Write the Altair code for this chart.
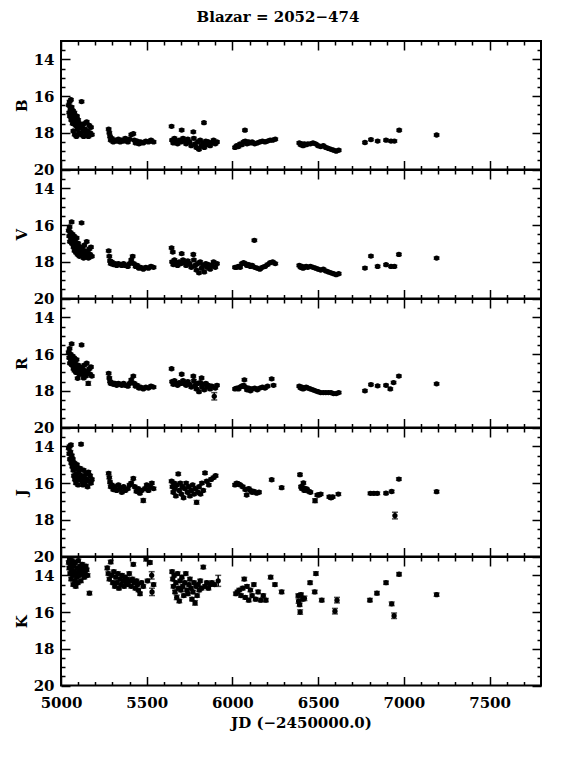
import altair as alt
import pandas as pd

TITLE = "Blazar = 2052−474"
X_TITLE = "JD (−2450000.0)"
BANDS = ["B", "V", "R", "J", "K"]
X_DOMAIN = [5000, 7800]
Y_DOMAIN = [13, 20]
X_MAJOR = [5000, 5500, 6000, 6500, 7000, 7500]
X_MINOR = [5100, 5200, 5300, 5400, 5600, 5700, 5800, 5900, 6100, 6200, 6300, 6400,
           6600, 6700, 6800, 6900, 7100, 7200, 7300, 7400, 7600, 7700]
Y_LABELS = [14, 16, 18, 20]
Y_MAJOR = [14, 16, 18, 20]
Y_MINOR = [13.5, 14.5, 15, 15.5, 16.5, 17, 17.5, 18.5, 19, 19.5]

# typical photometric error per band (mag)
DEFAULT_ERR = {"B": 0.06, "V": 0.06, "R": 0.06, "J": 0.07, "K": 0.09}

# (JD-2450000, magnitude[, error])
B_PTS = [
    (5045, 16.5), (5048, 16.9), (5050, 16.3), (5052, 17.1), (5055, 16.7), (5058, 16.2),
    (5060, 17.3), (5062, 16.6), (5065, 17.0), (5068, 17.5), (5070, 16.8), (5072, 17.9),
    (5075, 17.2), (5078, 16.9), (5080, 18.1), (5083, 17.4), (5086, 17.6), (5090, 18.2),
    (5093, 17.1), (5096, 17.8), (5100, 17.3), (5104, 18.0), (5108, 17.5), (5112, 17.7),
    (5116, 18.1), (5120, 16.3), (5124, 17.6), (5128, 17.9), (5132, 18.2), (5136, 17.5),
    (5140, 17.8), (5145, 18.1), (5150, 17.4), (5155, 17.9), (5160, 18.2), (5165, 17.6),
    (5170, 18.0), (5175, 17.7), (5180, 18.1),
    (5278, 17.8), (5282, 18.0), (5286, 18.2), (5290, 18.4), (5296, 18.3), (5305, 18.5),
    (5315, 18.4), (5325, 18.45), (5335, 18.35), (5345, 18.5), (5355, 18.4), (5365, 18.45),
    (5375, 18.3), (5390, 18.5), (5400, 18.35), (5410, 18.1), (5422, 18.05), (5428, 18.4),
    (5435, 18.55), (5445, 18.45), (5455, 18.6), (5465, 18.5), (5480, 18.55), (5495, 18.45),
    (5510, 18.5), (5525, 18.4), (5540, 18.5),
    (5645, 17.65), (5704, 17.85), (5772, 17.95), (5834, 17.45),
    (5648, 18.4), (5655, 18.55), (5662, 18.3), (5670, 18.5), (5680, 18.6), (5690, 18.4),
    (5700, 18.5), (5712, 18.3), (5720, 18.45), (5730, 18.6), (5740, 18.35), (5750, 18.5),
    (5760, 18.7), (5775, 18.3), (5782, 18.6), (5790, 18.8), (5798, 18.5), (5805, 18.9),
    (5812, 18.4), (5820, 18.7), (5828, 18.55), (5836, 18.8), (5845, 18.45), (5852, 18.65),
    (5860, 18.5), (5870, 18.7), (5880, 18.55), (5890, 18.4), (5900, 18.6), (5910, 18.5),
    (6073, 17.86),
    (6015, 18.8), (6025, 18.7), (6035, 18.75), (6045, 18.6), (6055, 18.65), (6065, 18.5),
    (6075, 18.45), (6085, 18.6), (6095, 18.5), (6105, 18.55), (6115, 18.5), (6130, 18.6),
    (6145, 18.55), (6160, 18.5), (6175, 18.45), (6190, 18.5), (6205, 18.45), (6220, 18.4),
    (6235, 18.4), (6250, 18.35),
    (6390, 18.55), (6398, 18.65), (6405, 18.6), (6412, 18.7), (6420, 18.6), (6430, 18.65),
    (6440, 18.6), (6455, 18.6), (6470, 18.55), (6485, 18.6), (6500, 18.7), (6515, 18.75),
    (6530, 18.7), (6545, 18.8), (6560, 18.85), (6575, 18.9), (6590, 18.95), (6605, 19.0),
    (6620, 18.95),
    (6773, 18.53), (6808, 18.37), (6847, 18.45), (6896, 18.4), (6925, 18.45), (6945, 18.45),
    (6973, 17.86), (7191, 18.12),
]

V_PTS = [
    (5045, 16.3), (5048, 16.6), (5050, 16.1), (5052, 16.9), (5055, 16.4), (5058, 16.7),
    (5062, 15.83), (5064, 17.0), (5067, 16.5), (5070, 16.8), (5073, 17.2), (5076, 16.6),
    (5079, 17.4), (5082, 16.9), (5085, 17.1), (5088, 17.5), (5091, 16.7), (5094, 17.3),
    (5097, 17.6), (5100, 17.0), (5104, 17.4), (5108, 17.7), (5112, 17.2), (5116, 17.5),
    (5120, 15.88), (5124, 17.3), (5128, 17.6), (5132, 17.8), (5136, 17.1), (5140, 17.4),
    (5145, 17.7), (5150, 16.9), (5155, 17.5), (5160, 17.8), (5165, 17.3), (5170, 17.6),
    (5175, 17.2), (5180, 17.7),
    (5278, 17.4), (5282, 17.7), (5286, 17.95), (5290, 18.1), (5296, 18.0), (5305, 18.15),
    (5315, 18.1), (5325, 18.2), (5335, 18.1), (5345, 18.15), (5355, 18.2), (5365, 18.1),
    (5375, 18.2), (5390, 18.25), (5400, 18.1), (5410, 17.9), (5418, 17.7), (5425, 18.1),
    (5435, 18.25), (5445, 18.2), (5455, 18.35), (5465, 18.3), (5480, 18.4), (5495, 18.3),
    (5510, 18.35), (5525, 18.25), (5540, 18.3),
    (5645, 17.24), (5652, 17.47), (5704, 17.56), (5772, 17.6),
    (5648, 18.0), (5655, 18.15), (5662, 17.9), (5670, 18.1), (5680, 18.2), (5690, 18.0),
    (5700, 18.1), (5712, 17.9), (5720, 18.05), (5730, 18.2), (5740, 17.95), (5750, 18.1),
    (5760, 18.3), (5775, 17.9), (5782, 18.2), (5790, 18.45), (5798, 18.1), (5805, 18.6),
    (5812, 18.0), (5820, 18.35), (5828, 18.2), (5836, 18.55), (5845, 18.1), (5852, 18.3),
    (5860, 18.15), (5870, 18.4), (5880, 18.2), (5890, 18.0), (5900, 18.3), (5910, 18.1),
    (6128, 16.83),
    (6015, 18.3), (6025, 18.3), (6035, 18.25), (6045, 18.3), (6055, 18.1), (6065, 18.05),
    (6075, 18.1), (6085, 18.2), (6095, 18.15), (6105, 18.25), (6115, 18.2), (6130, 18.3),
    (6145, 18.35), (6160, 18.4), (6175, 18.3), (6190, 18.25), (6205, 18.15), (6220, 18.05),
    (6235, 18.0), (6250, 18.1),
    (6390, 18.2), (6398, 18.3), (6405, 18.25), (6412, 18.35), (6420, 18.3), (6430, 18.25),
    (6440, 18.3), (6455, 18.25), (6470, 18.3), (6485, 18.35), (6500, 18.4), (6515, 18.45),
    (6530, 18.4), (6545, 18.5), (6560, 18.55), (6575, 18.6), (6590, 18.65), (6605, 18.7),
    (6620, 18.65),
    (6773, 18.34), (6808, 17.69), (6847, 18.25), (6896, 18.16), (6925, 18.25), (6945, 18.25),
    (6971, 17.6), (7191, 17.8),
]

R_PTS = [
    (5045, 15.9), (5048, 16.2), (5050, 15.7), (5052, 16.5), (5055, 16.0), (5058, 16.3),
    (5062, 15.44), (5064, 16.6), (5067, 16.1), (5070, 16.4), (5073, 16.8), (5076, 16.2),
    (5079, 16.9), (5082, 16.5), (5085, 16.7), (5088, 17.0), (5091, 16.3), (5094, 16.8),
    (5097, 17.32), (5100, 16.6), (5104, 16.9), (5108, 17.1), (5112, 16.7), (5116, 17.0),
    (5120, 15.5), (5124, 16.8), (5128, 17.1), (5132, 17.3), (5136, 16.6), (5140, 16.9),
    (5145, 17.2), (5150, 16.5), (5155, 17.0), (5159, 17.6, 0.1), (5165, 16.8), (5170, 17.1),
    (5175, 16.7), (5180, 17.2),
    (5278, 17.05), (5282, 17.3), (5286, 17.5), (5290, 17.6), (5296, 17.55), (5305, 17.65),
    (5315, 17.6), (5325, 17.7), (5335, 17.6), (5345, 17.65), (5355, 17.7), (5365, 17.6),
    (5375, 17.7), (5390, 17.75), (5400, 17.6), (5410, 17.4), (5422, 17.2), (5428, 17.6),
    (5435, 17.75), (5445, 17.7), (5455, 17.85), (5465, 17.8), (5480, 17.9), (5495, 17.8),
    (5510, 17.85), (5525, 17.75), (5540, 17.8),
    (5645, 16.8), (5704, 17.1), (5772, 17.2), (5820, 17.3),
    (5648, 17.5), (5655, 17.65), (5662, 17.45), (5670, 17.6), (5680, 17.7), (5690, 17.55),
    (5700, 17.6), (5712, 17.45), (5720, 17.6), (5730, 17.7), (5740, 17.5), (5750, 17.65),
    (5760, 17.8), (5775, 17.45), (5782, 17.7), (5790, 17.9), (5798, 17.6), (5805, 18.05),
    (5812, 17.55), (5822, 17.8), (5828, 17.65), (5836, 17.95), (5845, 17.6), (5852, 17.8),
    (5860, 17.7), (5870, 17.9), (5880, 17.75), (5894, 18.3, 0.2), (5900, 17.85), (5910, 17.7),
    (6015, 17.9), (6025, 17.85), (6035, 17.9), (6045, 17.8), (6055, 17.75), (6065, 17.7),
    (6070, 17.4), (6075, 17.8), (6085, 17.95), (6095, 17.85), (6105, 18.0), (6115, 17.9),
    (6130, 17.85), (6145, 17.95), (6160, 17.85), (6175, 17.8), (6190, 17.85), (6205, 17.75),
    (6229, 17.35), (6240, 17.7),
    (6390, 17.75), (6398, 17.85), (6405, 17.8), (6412, 17.9), (6420, 17.85), (6430, 17.8),
    (6440, 17.85), (6455, 17.9), (6470, 17.95), (6485, 18.0), (6500, 18.05), (6515, 18.1),
    (6530, 18.1), (6545, 18.1), (6560, 18.1), (6575, 18.1), (6590, 18.15), (6605, 18.15),
    (6620, 18.1),
    (6773, 18.0), (6808, 17.66), (6847, 17.73), (6896, 17.7), (6921, 17.9), (6940, 17.55),
    (6971, 17.2), (7191, 17.62),
]

J_PTS = [
    (5045, 14.1), (5048, 14.4), (5050, 14.0), (5052, 14.7), (5055, 14.3), (5058, 13.92),
    (5060, 14.9), (5063, 14.5), (5066, 15.1), (5069, 14.7), (5072, 15.3), (5075, 15.6),
    (5078, 14.9), (5081, 15.8), (5084, 15.2), (5087, 16.0), (5090, 15.5), (5093, 15.0),
    (5096, 15.7), (5100, 16.1), (5104, 15.4), (5108, 15.8), (5112, 15.2), (5117, 13.88),
    (5120, 15.6), (5124, 15.9), (5128, 16.1), (5132, 15.3), (5136, 15.7), (5140, 16.0),
    (5145, 15.5), (5150, 15.8), (5155, 16.2), (5160, 15.4), (5165, 15.9), (5170, 15.6),
    (5175, 16.0), (5180, 15.8),
    (5278, 15.47), (5282, 15.7), (5286, 15.95), (5290, 16.2), (5296, 16.1), (5305, 16.35),
    (5315, 16.2), (5325, 16.4), (5335, 16.1), (5345, 16.3), (5355, 16.5), (5365, 16.2),
    (5375, 16.4), (5390, 16.3), (5400, 16.1), (5410, 16.0), (5422, 15.75), (5430, 16.2),
    (5440, 16.45), (5450, 16.3), (5460, 16.55), (5470, 16.4), (5480, 16.95, 0.1), (5490, 16.3),
    (5500, 16.1), (5510, 16.4), (5520, 16.2), (5530, 16.0), (5540, 16.3),
    (5645, 15.9), (5650, 16.2), (5655, 16.5), (5660, 16.0), (5665, 16.3), (5670, 16.7),
    (5676, 16.1), (5684, 15.5), (5690, 16.4), (5696, 16.0), (5702, 16.6), (5708, 16.2),
    (5715, 16.8), (5722, 16.3), (5730, 16.0), (5738, 16.5), (5745, 16.2), (5752, 16.7),
    (5760, 16.4), (5768, 16.1), (5776, 16.6), (5784, 16.3), (5791, 17.05, 0.1), (5798, 16.5),
    (5806, 16.2), (5814, 16.6), (5822, 16.0), (5830, 16.4), (5840, 15.45), (5850, 15.9),
    (5862, 16.1), (5875, 15.8), (5890, 15.7), (5902, 15.6),
    (6015, 16.1), (6025, 16.0), (6035, 16.05), (6045, 16.1), (6060, 16.2), (6075, 16.35),
    (6083, 16.65), (6095, 16.3), (6105, 16.4), (6115, 16.5), (6125, 16.45), (6140, 16.55),
    (6155, 16.5), (6229, 15.82), (6287, 16.25),
    (6394, 15.54), (6400, 16.2), (6405, 16.3), (6410, 16.25), (6414, 15.99), (6420, 16.4),
    (6428, 16.3), (6435, 16.35), (6445, 16.45), (6455, 16.5), (6482, 16.96, 0.1), (6495, 16.65),
    (6505, 16.65), (6515, 16.6), (6565, 16.75), (6575, 16.8), (6585, 16.75), (6618, 16.6),
    (6805, 16.56), (6825, 16.56), (6845, 16.56), (6896, 16.55), (6929, 16.46),
    (6948, 17.77, 0.18), (6971, 15.78), (7191, 16.47),
]

K_PTS = [
    (5045, 13.3), (5048, 13.6), (5050, 13.1), (5053, 13.9), (5056, 13.4), (5059, 14.2),
    (5062, 13.7), (5065, 13.2), (5068, 14.0), (5071, 14.5), (5074, 13.5), (5077, 13.8),
    (5080, 14.3), (5083, 13.3), (5086, 14.6), (5089, 13.9), (5092, 14.1), (5095, 13.6),
    (5098, 14.4), (5101, 13.2), (5104, 13.8), (5108, 14.0), (5112, 13.5), (5116, 14.3),
    (5120, 13.7), (5124, 13.4), (5128, 13.9), (5132, 13.6), (5136, 14.1), (5140, 13.8),
    (5145, 13.5), (5150, 13.7), (5155, 14.0), (5166, 14.97),
    (5270, 13.6), (5276, 13.9), (5282, 14.2), (5290, 13.27), (5296, 14.0), (5302, 14.4),
    (5308, 13.8), (5314, 14.6), (5320, 14.1), (5326, 14.4), (5332, 13.9), (5338, 14.7),
    (5344, 14.2), (5350, 14.5), (5356, 14.0), (5362, 14.3), (5368, 14.6), (5374, 14.1),
    (5380, 14.4), (5386, 14.2), (5392, 14.5), (5398, 13.9), (5404, 14.3), (5410, 14.6),
    (5416, 14.2), (5422, 13.4), (5428, 14.4), (5434, 14.7), (5440, 14.3), (5446, 14.5),
    (5452, 14.8), (5461, 15.0), (5470, 14.4), (5480, 14.6), (5496, 13.1, 0.12), (5505, 14.3),
    (5519, 13.3), (5529, 14.0, 0.2), (5531, 14.9, 0.2), (5540, 14.5),
    (5648, 13.8), (5652, 14.2), (5656, 14.6), (5660, 14.0), (5665, 14.9), (5670, 14.4),
    (5675, 15.2, 0.12), (5680, 13.9), (5685, 14.7), (5690, 15.4), (5695, 14.3), (5700, 14.8),
    (5705, 14.1), (5710, 14.6), (5716, 15.1), (5722, 14.4), (5728, 13.9), (5734, 14.8),
    (5740, 15.0), (5746, 14.5), (5752, 14.2), (5758, 14.7), (5764, 15.3), (5770, 14.9),
    (5776, 14.4), (5782, 15.5, 0.12), (5788, 14.6), (5794, 15.1), (5800, 14.5), (5806, 14.8),
    (5812, 14.3), (5820, 14.7), (5830, 13.55), (5840, 14.6), (5850, 14.4), (5860, 14.7),
    (5870, 14.5), (5880, 14.4), (5895, 14.5), (5917, 14.3, 0.3),
    (6020, 15.0), (6030, 14.9), (6040, 14.8), (6050, 15.1), (6060, 14.7), (6069, 14.2),
    (6075, 15.2), (6085, 14.6), (6095, 15.35), (6105, 14.8), (6115, 15.1), (6125, 14.5),
    (6135, 15.3), (6150, 14.9), (6165, 15.35), (6180, 15.1), (6195, 15.35), (6223, 14.1),
    (6248, 14.5), (6287, 14.9),
    (6384, 15.1), (6386, 15.4, 0.12), (6392, 15.6), (6395, 16.0, 0.12), (6400, 15.05),
    (6410, 15.3), (6420, 15.25, 0.12), (6453, 14.4), (6480, 14.9), (6487, 13.9, 0.1),
    (6521, 15.35), (6598, 15.95, 0.15), (6610, 15.35, 0.15),
    (6802, 15.35), (6843, 14.97), (6896, 14.4), (6929, 15.55, 0.1), (6943, 16.2, 0.15),
    (6972, 13.94), (7191, 15.05),
]

POINTS = {"B": B_PTS, "V": V_PTS, "R": R_PTS, "J": J_PTS, "K": K_PTS}

W, H = 480, 128.5
FONT = "DejaVu Serif"
FS = 15


def frame(band):
    rows = []
    for p in POINTS[band]:
        err = p[2] if len(p) > 2 else DEFAULT_ERR[band]
        rows.append({"jd": p[0], "mag": p[1], "lo": p[1] - err, "hi": p[1] + err})
    return pd.DataFrame(rows)


def tick_axis(orient, values, size, offset):
    return alt.Axis(orient=orient, values=values, labels=False, ticks=True, tickSize=size,
                    tickWidth=1.5, tickColor="black", domain=False, grid=False, title=None,
                    offset=offset)


def panel(band, bottom):
    df = frame(band)
    xs = alt.Scale(domain=X_DOMAIN, nice=False, zero=False)
    ys = alt.Scale(domain=Y_DOMAIN, reverse=True, nice=False, zero=False)
    base = alt.Chart(df)

    y_lab = alt.Axis(orient="left", values=Y_LABELS, ticks=False, domain=False, grid=False,
                     title=band, labelPadding=7, labelFont=FONT, labelFontSize=FS,
                     labelFontWeight="bold", labelColor="black", labelFlush=False,
                     titleFont=FONT, titleFontSize=FS, titleFontWeight="bold",
                     titleColor="black", titlePadding=4)
    if bottom:
        x_lab = alt.Axis(orient="bottom", values=X_MAJOR, ticks=False, domain=False, grid=False,
                         title=X_TITLE, labelPadding=10, labelFont=FONT, labelFontSize=FS,
                         labelFontWeight="bold", labelColor="black", labelFlush=False,
                         titleFont=FONT, titleFontSize=FS, titleFontWeight="bold",
                         titleColor="black", titlePadding=5, format="d")
    else:
        x_lab = None

    pts = base.mark_circle(size=28, color="black", opacity=1).encode(
        x=alt.X("jd:Q", scale=xs, axis=x_lab),
        y=alt.Y("mag:Q", scale=ys, axis=y_lab),
    )
    bars = base.mark_rule(color="black", strokeWidth=1.5).encode(
        x=alt.X("jd:Q", scale=xs, axis=tick_axis("top", X_MAJOR, 9, -H)),
        y=alt.Y("lo:Q", scale=ys, axis=tick_axis("right", Y_MAJOR, 9, -W)),
        y2="hi:Q",
    )
    cap_lo = base.mark_tick(color="black", orient="horizontal", size=6, thickness=1.5).encode(
        x=alt.X("jd:Q", scale=xs, axis=tick_axis("top", X_MINOR, 4, -H)),
        y=alt.Y("lo:Q", scale=ys, axis=tick_axis("right", Y_MINOR, 4, -W)),
    )
    cap_hi = base.mark_tick(color="black", orient="horizontal", size=6, thickness=1.5).encode(
        x=alt.X("jd:Q", scale=xs, axis=tick_axis("bottom", X_MAJOR, 9, -H)),
        y=alt.Y("hi:Q", scale=ys, axis=tick_axis("left", Y_MAJOR, 9, -W)),
    )
    ghost = base.mark_point(opacity=0).encode(
        x=alt.X("jd:Q", scale=xs, axis=tick_axis("bottom", X_MINOR, 4, -H)),
        y=alt.Y("mag:Q", scale=ys, axis=tick_axis("left", Y_MINOR, 4, -W)),
    )
    return alt.layer(pts, bars, cap_lo, cap_hi, ghost).resolve_axis(
        x="independent", y="independent").properties(width=W, height=H)


panels = [panel(b, b == BANDS[-1]) for b in BANDS]

chart = alt.vconcat(*panels, spacing=0, bounds="flush").properties(
    title=alt.TitleParams(TITLE, font=FONT, fontSize=FS, fontWeight="bold", color="black",
                          anchor="middle", offset=14),
    background="white",
    padding={"left": 5, "top": 2, "right": 5, "bottom": 5},
).configure_view(stroke="black", strokeWidth=2)

chart.save("out.html", embed_options={"renderer": "svg", "actions": False})
